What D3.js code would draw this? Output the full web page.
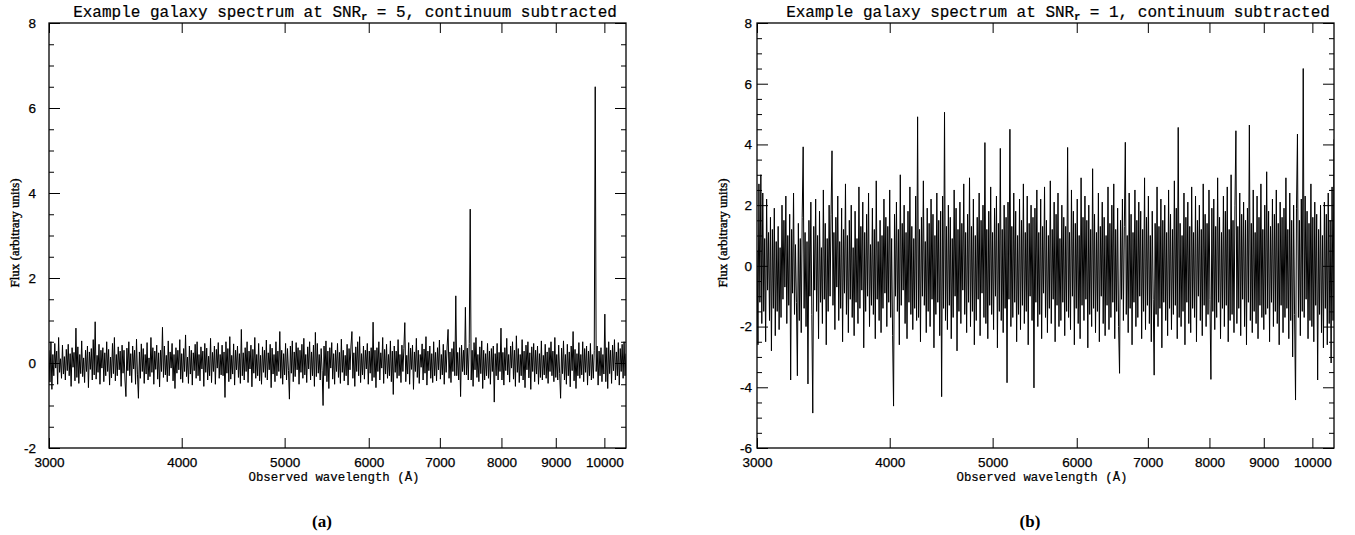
<!DOCTYPE html>
<html>
<head>
<meta charset="utf-8">
<script src="https://cdn.jsdelivr.net/npm/d3@7"></script>
<style>
body { margin: 0; background: #fff; }
.tick text { font-family: "Liberation Sans", Arial, sans-serif; font-size: 13.5px; fill: #000; stroke: #000; stroke-width: 0.25px; }
.tick line { stroke: #000; stroke-width: 1; }
.title, .xlabel { font-family: "Liberation Mono", "Courier New", monospace; fill: #000; stroke: #000; stroke-width: 0.2px; }
.ylabel { font-family: "Liberation Serif", "Times New Roman", serif; font-size: 13px; stroke: #000; stroke-width: 0.35px; }
.caption { font-family: "Liberation Serif", "Times New Roman", serif; font-size: 17px; font-weight: bold; }
</style>
</head>
<body>
<svg id="chart" width="1355" height="535"></svg>
<script>
// wavelength range of the spectra (Angstrom), pixels are evenly spaced in log(lambda)
var lamRange = [3000, 10480];
var xTicks = [3000, 4000, 5000, 6000, 7000, 8000, 9000, 10000];
var yMajorA = [-2, 0, 2, 4, 6, 8];
var yMajorB = [-6, -4, -2, 0, 2, 4, 6, 8];

// ---------- SNR_r = 5 ----------
var fluxA = [
  0.3,-0.45,0.5,-0.62,0.2,-0.3,0.46,-0.12,0.28,-0.5,0.6,-0.22,0.1,-0.36,0.42,-0.26,0.15,-0.4,0.32,-0.18,
  0.44,-0.3,0.22,-0.55,0.36,-0.1,0.25,-0.42,0.82,-0.34,0.38,-0.48,0.2,-0.25,0.52,-0.32,0.12,-0.46,0.3,-0.2,
  0.4,-0.58,0.26,-0.15,0.34,-0.4,0.55,-0.28,0.97,-0.38,0.18,-0.22,0.44,-0.5,0.3,-0.12,0.36,-0.44,0.24,-0.3,
  0.5,-0.2,0.32,-0.52,0.14,-0.35,0.46,-0.25,0.6,-0.42,0.2,-0.3,0.38,-0.16,0.28,-0.55,0.42,-0.24,0.3,-0.4,
  -0.79,0.35,-0.18,0.5,-0.3,0.22,-0.46,0.4,-0.14,0.3,-0.5,0.56,-0.28,-0.83,0.26,-0.36,0.45,-0.2,0.34,-0.48,
  0.2,-0.26,0.48,-0.4,0.12,-0.32,0.6,-0.22,0.36,-0.5,0.28,-0.15,0.42,-0.38,0.24,-0.56,0.3,-0.2,0.84,-0.34,
  0.4,-0.28,0.18,-0.44,0.52,-0.3,0.26,-0.12,0.46,-0.42,0.2,-0.6,0.36,-0.24,0.3,-0.16,0.55,-0.38,0.22,-0.46,
  0.34,-0.2,0.66,-0.32,0.14,-0.48,0.4,-0.26,0.3,-0.52,0.24,-0.18,0.44,-0.36,0.5,-0.3,0.2,-0.42,0.38,-0.14,
  0.28,-0.55,0.46,-0.22,0.35,-0.4,0.16,-0.3,0.58,-0.46,0.25,-0.2,0.4,-0.5,0.32,-0.12,0.48,-0.36,0.2,-0.28,
  0.42,-0.3,0.26,-0.81,0.5,-0.24,0.34,-0.44,0.62,-0.38,0.18,-0.26,0.45,-0.52,0.3,-0.16,0.4,-0.34,0.22,-0.48,
  0.79,-0.3,0.24,-0.4,0.36,-0.2,0.5,-0.46,0.28,-0.14,0.42,-0.56,0.32,-0.24,0.6,-0.36,0.2,-0.3,0.46,-0.42,
  0.18,-0.5,0.38,-0.22,0.3,-0.34,0.54,-0.4,0.24,-0.16,0.44,-0.58,0.35,-0.26,0.2,-0.44,0.5,-0.3,0.28,-0.2,
  0.74,-0.36,0.3,-0.5,0.22,-0.28,0.46,-0.4,0.34,-0.18,-0.85,0.4,-0.24,0.52,-0.44,0.26,-0.32,0.48,-0.16,0.36,
  -0.5,0.3,-0.22,0.44,-0.36,0.58,-0.28,0.2,-0.46,0.38,-0.14,0.5,-0.4,0.26,-0.3,0.42,-0.55,0.72,-0.32,0.46,
  -0.24,0.2,-0.4,0.34,-0.18,-1.0,0.4,-0.3,0.52,-0.44,0.28,-0.6,0.36,-0.12,0.48,-0.38,0.22,-0.5,0.3,-0.2,
  0.46,-0.34,0.25,-0.48,0.56,-0.22,0.3,-0.42,0.18,-0.3,0.44,-0.52,0.34,-0.16,0.4,0.74,-0.36,0.24,-0.55,0.38,
  -0.2,0.5,-0.3,0.62,-0.46,0.22,-0.28,0.4,-0.38,0.3,-0.14,0.46,-0.5,0.28,-0.24,0.36,-0.42,0.96,-0.34,0.3,
  -0.58,0.36,-0.2,0.5,-0.4,0.24,-0.12,0.6,-0.48,0.32,-0.26,0.44,-0.36,0.2,-0.3,0.52,-0.44,0.28,-0.74,0.4,
  -0.22,0.28,-0.36,0.55,-0.3,0.2,-0.46,0.42,-0.2,0.34,0.95,-0.44,0.18,-0.26,0.48,-0.5,0.35,-0.15,0.42,-0.62,
  0.26,-0.2,0.58,-0.34,0.3,-0.48,0.2,-0.1,0.45,-0.4,0.33,-0.24,0.62,-0.52,0.28,-0.18,0.4,-0.36,0.22,-0.46,
  0.5,-0.3,0.25,-0.42,0.36,-0.16,0.54,-0.38,0.2,-0.28,0.44,-0.5,0.3,-0.22,0.4,0.79,-0.36,0.26,-0.46,0.34,
  -0.2,0.5,-0.3,1.58,-0.3,0.25,-0.4,0.36,-0.79,0.42,-0.2,0.3,-0.28,1.31,-0.28,0.35,-0.4,0.46,3.62,-0.4,
  0.3,-0.55,0.48,-0.16,0.6,-0.34,0.2,-0.44,0.38,-0.25,0.52,-0.6,0.3,-0.4,0.22,-0.3,0.46,-0.36,0.28,-0.5,
  0.34,-0.2,0.4,-0.92,0.22,-0.3,0.46,-0.4,0.25,-0.2,0.82,-0.4,0.25,-0.52,0.36,-0.18,0.58,-0.28,0.2,-0.45,
  0.4,-0.12,0.5,-0.38,0.3,-0.55,0.64,-0.22,0.34,-0.46,0.2,-0.3,0.55,-0.4,0.28,-0.58,0.42,-0.16,0.5,-0.35,
  0.24,-0.62,0.38,-0.2,0.46,-0.44,0.3,-0.26,0.4,-0.5,0.22,-0.34,0.52,-0.4,0.18,-0.28,0.44,-0.36,0.26,-0.48,
  0.36,-0.2,0.5,-0.3,0.28,-0.44,0.6,-0.34,0.2,-0.4,0.42,-0.25,-0.83,0.35,-0.25,0.52,-0.4,0.2,-0.5,0.44,
  -0.3,0.26,-0.56,0.4,-0.18,0.74,-0.42,0.32,-0.6,0.22,-0.3,0.48,-0.36,0.2,-0.28,0.5,-0.44,0.34,-0.22,0.4,
  -0.52,0.28,-0.3,0.46,-0.4,0.2,-0.36,0.3,6.5,-0.2,0.4,-0.52,0.28,-0.3,0.36,-0.44,0.2,-0.26,1.15,-0.44,
  0.36,-0.6,0.5,-0.25,0.3,-0.48,0.42,-0.18,0.55,-0.4,0.26,-0.3,0.48,-0.52,0.34,-0.2,0.44,-0.36,0.5,-0.3,
  0.22
];

// ---------- SNR_r = 1 ----------
var fluxB = [
  0.5,-2.6,2.7,-1.2,3.0,-1.9,2.4,-1.5,0.9,-2.5,2.2,-0.8,1.1,-1.8,1.6,-2.8,1.2,-1.4,1.9,-2.3,
  0.8,-1.5,1.3,-2.1,0.6,-1.7,2.0,-1.1,1.5,-0.7,2.3,-1.9,1.0,-1.3,1.7,-3.76,1.2,-0.9,2.4,-1.6,
  0.7,-1.2,-3.62,1.4,-1.8,0.9,-2.2,1.6,3.92,-1.4,1.1,-2.0,0.8,-3.89,1.5,-1.0,2.1,-1.6,-4.85,1.3,
  -0.8,2.2,-1.5,1.0,-2.4,1.8,-1.2,0.6,-1.9,2.5,-1.1,1.4,-2.6,0.9,-1.5,2.0,-1.0,1.7,3.79,-1.3,
  1.1,-2.1,1.6,-0.7,2.3,-1.8,0.8,-1.4,1.9,-2.5,1.2,-0.9,2.7,-1.6,1.0,-2.2,1.5,-1.1,2.0,-1.7,
  0.6,-2.3,1.8,-1.2,0.9,-1.9,2.6,-1.4,1.3,-0.8,2.1,-2.7,1.1,-1.5,1.7,-1.0,2.4,-2.0,0.7,-1.3,
  1.9,-1.6,1.2,-2.4,2.8,-1.1,0.8,-1.8,1.5,-2.2,1.0,-1.4,2.2,-0.9,1.6,-2.0,1.3,-1.2,2.5,-1.7,
  0.9,-2.3,-4.62,1.7,-1.0,2.1,-1.5,1.2,-2.6,3.0,-1.3,1.4,-0.8,2.0,-1.9,1.1,-2.4,1.8,-1.2,2.6,
  -1.6,1.3,-2.1,0.9,-1.4,2.3,-1.8,4.91,-1.7,1.2,-2.5,1.6,-1.0,2.8,-1.3,0.8,-2.2,1.9,-1.5,1.4,
  -2.0,2.2,-1.1,1.7,-2.7,1.0,-1.6,2.4,-1.2,1.5,-2.3,1.8,-4.31,2.3,-1.4,5.06,-1.8,1.3,-2.1,2.0,
  -1.3,1.6,-2.4,0.9,-1.7,2.5,-1.0,1.9,-2.8,1.2,-1.5,2.1,-1.9,1.4,-0.8,2.7,-1.6,1.1,-2.2,1.7,
  -1.2,2.9,-2.0,1.3,-1.5,2.2,-2.6,1.0,-1.8,1.6,-1.1,2.4,-2.3,1.5,-0.9,2.0,-1.7,4.06,-1.9,1.2,
  -2.4,1.8,-1.3,2.6,-1.6,1.1,-2.1,1.9,-1.0,2.3,-2.7,1.4,-1.5,3.87,-1.8,1.2,-2.2,2.0,-1.4,1.6,
  -3.85,2.1,-1.1,4.5,-2.0,1.3,-1.7,2.4,-1.2,1.8,-2.5,1.0,-1.6,2.2,-2.1,1.5,-1.3,2.7,-1.9,1.1,
  -1.5,2.3,-2.6,1.4,-1.0,2.0,-1.8,1.6,-4.02,1.9,-1.2,2.5,-2.0,1.1,-1.6,2.2,-2.4,1.3,-0.9,2.6,
  -1.7,1.5,-2.2,1.0,-1.4,2.8,-1.9,1.2,-1.1,2.1,-2.5,1.7,-1.3,2.4,-2.0,0.9,-1.8,2.0,-1.2,1.6,
  -2.3,1.3,-1.5,3.9,-1.7,1.1,-2.1,2.5,-1.0,1.8,-2.6,1.4,-1.4,2.2,-1.9,1.0,-2.4,2.9,-1.3,1.6,
  -1.8,2.3,-1.1,1.5,-2.7,2.0,-1.6,1.2,-2.0,3.2,-1.4,1.7,-2.2,1.1,-1.5,2.4,-2.5,1.3,-1.0,2.1,
  -1.9,1.6,-2.3,1.0,-1.3,2.6,-2.1,1.4,-1.7,2.0,-1.2,2.7,-2.4,1.2,-1.5,1.9,-2.0,-3.54,1.5,-1.1,
  2.2,-1.8,1.3,4.07,-1.6,1.0,-2.2,2.4,-1.4,1.7,-2.6,1.1,-1.2,2.5,-2.0,1.5,-1.7,2.1,-1.0,1.8,
  -2.4,1.2,-1.5,2.9,-2.1,1.6,-1.3,2.3,-1.9,1.0,-2.5,1.8,-1.1,-3.6,1.4,-1.6,2.6,-2.0,1.3,-1.4,
  2.2,-2.7,1.5,-1.2,2.0,-1.8,1.1,-2.3,2.5,-1.4,1.7,-2.1,1.2,-1.6,2.8,-1.3,1.9,-2.4,4.56,-1.7,
  1.4,-2.0,1.0,-1.5,2.4,-2.6,1.6,-1.2,2.1,-1.9,1.3,-2.2,2.6,-1.4,1.1,-1.7,2.3,-2.5,1.5,-1.0,
  2.0,-1.8,1.2,-2.3,2.7,-1.3,1.7,-2.0,1.4,-1.6,2.5,-1.1,-3.74,1.9,-1.5,2.2,-2.1,1.3,-1.7,2.9,
  -1.2,1.6,-2.4,1.1,-1.4,2.3,-2.0,1.8,-1.3,2.6,-2.5,1.2,-1.8,3.0,-1.6,1.5,-2.2,2.0,4.45,-1.9,
  1.3,-1.4,2.4,-2.3,1.7,-1.1,2.1,-2.0,1.5,-2.6,1.9,-1.2,4.64,-1.8,1.4,-2.2,2.5,-1.5,1.1,-1.9,
  2.3,-2.4,1.6,-1.3,2.7,-1.7,1.2,-2.1,2.0,-1.6,3.1,-1.4,1.8,-2.5,1.3,-1.2,2.2,-2.0,1.7,-1.5,
  2.5,-1.9,1.4,-2.6,2.1,-1.3,1.6,-2.2,1.9,-1.7,2.9,-1.4,1.2,-2.4,2.4,-1.8,1.5,-3.0,2.0,-1.6,
  -4.42,1.9,4.34,-1.7,1.5,-2.3,2.2,-1.5,6.5,-1.7,2.3,-1.1,1.8,-2.4,1.4,-1.8,2.7,-2.0,1.6,-2.5,
  2.1,-1.3,1.7,-3.76,1.2,-1.6,2.0,-2.2,1.0,-2.7,2.1,-1.4,1.7,-2.6,2.4,-1.9,1.5,-3.2,2.6,-1.8,
  4.17
];

var svg = d3.select("#chart");

// wavelength of pixel i of n (log-lambda grid)
function lamAt(i, n) {
    return lamRange[0] * Math.pow(lamRange[1] / lamRange[0], i / (n - 1));
}

function drawPanel(cfg) {
    var x = d3.scaleLog().domain(lamRange).range([cfg.left, cfg.right]);
    var y = d3.scaleLinear().domain(cfg.yDomain).range([cfg.bottom, cfg.top]);
    var g = svg.append("g");
    var n = cfg.flux.length;

    g.append("defs").append("clipPath")
        .attr("id", "clip-" + cfg.id)
        .append("rect")
        .attr("x", cfg.left).attr("y", cfg.top)
        .attr("width", cfg.right - cfg.left)
        .attr("height", cfg.bottom - cfg.top);

    var line = d3.line()
        .x(function (d, i) { return x(lamAt(i, n)); })
        .y(function (d) { return y(d); });

    g.append("path")
        .datum(cfg.flux)
        .attr("clip-path", "url(#clip-" + cfg.id + ")")
        .attr("d", line)
        .attr("fill", "none")
        .attr("stroke", "#000")
        .attr("stroke-width", 1);

    // x axes (bottom with labels, top without)
    g.append("g")
        .attr("transform", "translate(0," + cfg.bottom + ")")
        .call(d3.axisBottom(x).tickValues(xTicks).tickSize(-10).tickPadding(9).tickFormat(d3.format("d")))
        .call(function (a) { a.select(".domain").remove(); });
    g.append("g")
        .attr("transform", "translate(0," + cfg.top + ")")
        .call(d3.axisTop(x).tickValues(xTicks).tickSize(-10).tickFormat(""))
        .call(function (a) { a.select(".domain").remove(); });

    // y axes: minor ticks every 0.5, major every 2
    var minor = y.ticks(20).filter(function (v) { return cfg.yMajor.indexOf(v) < 0; });
    g.append("g")
        .attr("transform", "translate(" + cfg.left + ",0)")
        .call(d3.axisLeft(y).tickValues(cfg.yMajor).tickSize(-11).tickPadding(cfg.labelGap).tickFormat(function (d) { return String(d); }))
        .call(function (a) { a.select(".domain").remove(); });
    g.append("g")
        .attr("transform", "translate(" + cfg.left + ",0)")
        .call(d3.axisLeft(y).tickValues(minor).tickSize(-5).tickFormat(""))
        .call(function (a) { a.select(".domain").remove(); });
    g.append("g")
        .attr("transform", "translate(" + cfg.right + ",0)")
        .call(d3.axisRight(y).tickValues(cfg.yMajor).tickSize(-11).tickFormat(""))
        .call(function (a) { a.select(".domain").remove(); });
    g.append("g")
        .attr("transform", "translate(" + cfg.right + ",0)")
        .call(d3.axisRight(y).tickValues(minor).tickSize(-5).tickFormat(""))
        .call(function (a) { a.select(".domain").remove(); });

    g.append("rect")
        .attr("x", cfg.left).attr("y", cfg.top)
        .attr("width", cfg.right - cfg.left)
        .attr("height", cfg.bottom - cfg.top)
        .attr("fill", "none")
        .attr("stroke", "#000")
        .attr("stroke-width", 1.3);

    var t = g.append("text")
        .attr("class", "title")
        .attr("x", cfg.titleX).attr("y", 17)
        .attr("text-anchor", "middle")
        .style("font-size", "16px");
    t.append("tspan").text("Example galaxy spectrum at SNR");
    t.append("tspan").attr("dy", 3).style("font-size", "10px").style("font-weight", "bold").text("r");
    t.append("tspan").attr("dy", -3).text(" = " + cfg.snr + ", continuum subtracted");

    g.append("text")
        .attr("class", "xlabel")
        .attr("x", cfg.xlabelX).attr("y", 481)
        .attr("text-anchor", "middle")
        .style("font-size", "12.4px")
        .text("Observed wavelength (Å)");

    g.append("text")
        .attr("class", "ylabel")
        .attr("transform", "translate(" + cfg.ylabelX + ",233) rotate(-90)")
        .attr("text-anchor", "middle")
        .text("Flux (arbitrary units)");

    g.append("text")
        .attr("class", "caption")
        .attr("x", cfg.captionX).attr("y", 527)
        .attr("text-anchor", "middle")
        .text(cfg.caption);
}

drawPanel({
    id: "a", flux: fluxA, left: 49, right: 626, top: 23, bottom: 448,
    yDomain: [-2, 8], yMajor: yMajorA, labelGap: 13, snr: 5,
    titleX: 345, xlabelX: 334, ylabelX: 19, captionX: 322, caption: "(a)"
});
drawPanel({
    id: "b", flux: fluxB, left: 757, right: 1334, top: 23, bottom: 448,
    yDomain: [-6, 8], yMajor: yMajorB, labelGap: 5, snr: 1,
    titleX: 1058, xlabelX: 1042, ylabelX: 727, captionX: 1030, caption: "(b)"
});
</script>
</body>
</html>
